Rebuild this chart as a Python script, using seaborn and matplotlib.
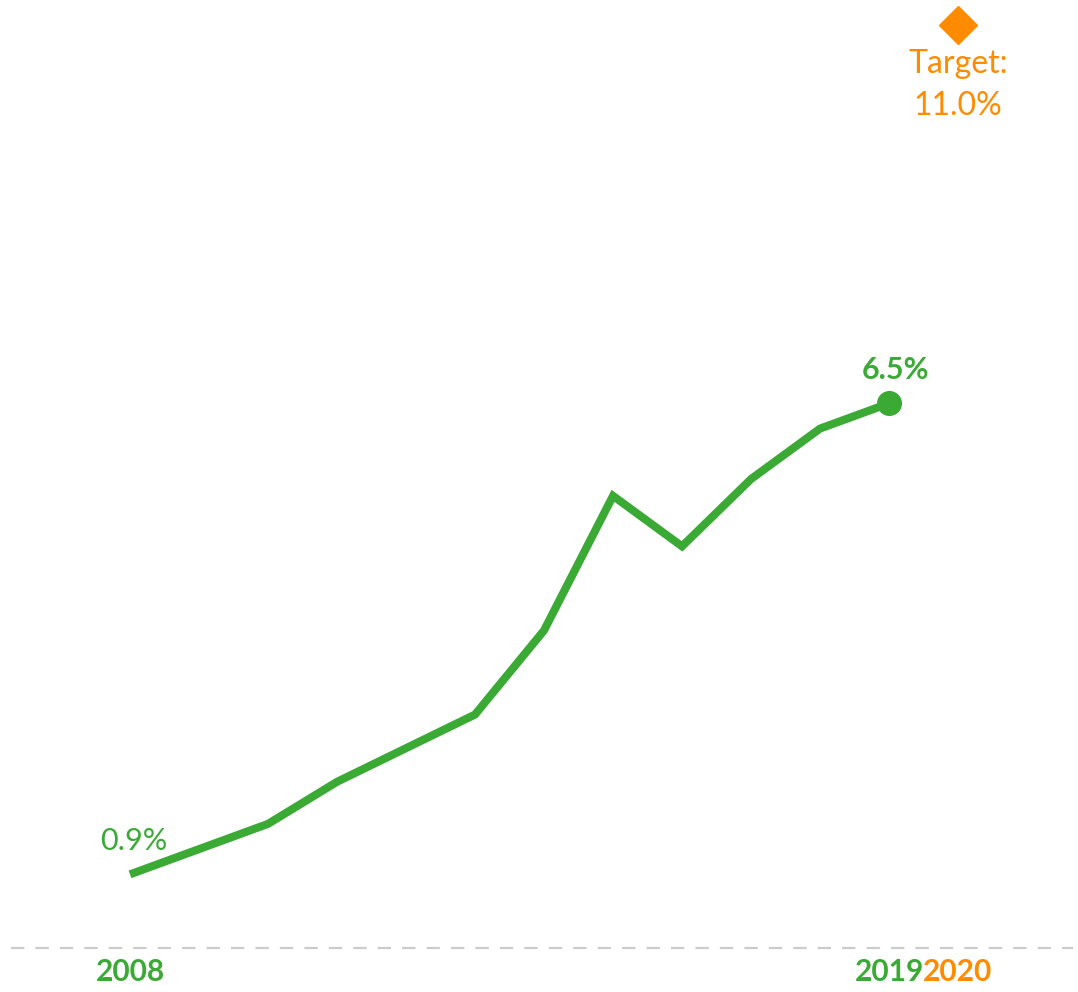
import matplotlib.pyplot as plt
import pandas as pd
import seaborn as sns

GREEN = "#3aaa35"
ORANGE = "#ff8b00"

years = [2008, 2009, 2010, 2011, 2012, 2013, 2014, 2015, 2016, 2017, 2018, 2019]
share = [0.9, 1.2, 1.5, 2.0, 2.4, 2.8, 3.8, 5.4, 4.8, 5.6, 6.2, 6.5]
target_year = 2020
target_value = 11.0

sns.set_theme(style="white")
plt.rcParams["font.family"] = ["Lato", "DejaVu Sans"]

df = pd.DataFrame({"year": years, "share": share})

fig = plt.figure(figsize=(10.78, 9.92), dpi=100)
ax = fig.add_axes([0, 0, 1, 1])

sns.lineplot(data=df, x="year", y="share", ax=ax, color=GREEN,
             linewidth=5.8, solid_capstyle="butt", solid_joinstyle="miter")
ax.plot(years[-1], share[-1], "o", color=GREEN, markersize=17)
ax.plot(target_year, target_value, "D", color=ORANGE, markersize=19)

# baseline
ax.axhline(0.02, xmin=0.01, xmax=0.995, color="#cccccc", linewidth=1.6,
           linestyle=(0, (6, 5)))

ax.set_xlim(2006.116, 2021.739)
ax.set_ylim(-0.499, 11.296)
ax.axis("off")

ax.text(years[0] + 0.05, share[0] + 0.4, f"{share[0]:.1f}%", color=GREEN,
        fontsize=22, ha="center", va="center")
ax.text(years[-1] + 0.1, share[-1] + 0.4, f"{share[-1]:.1f}%", color=GREEN,
        fontsize=22, fontweight="bold", ha="center", va="center")
ax.text(target_year, target_value - 0.47, "Target:", color=ORANGE,
        fontsize=23, ha="center", va="center")
ax.text(target_year, target_value - 0.97, f"{target_value:.1f}%", color=ORANGE,
        fontsize=23, ha="center", va="center")

ax.text(years[0], -0.26, str(years[0]), color=GREEN, fontsize=21.5,
        fontweight="bold", ha="center", va="center")
ax.text(years[-1] + 0.01, -0.26, str(years[-1]), color=GREEN, fontsize=21.5,
        fontweight="bold", ha="center", va="center")
ax.text(target_year - 0.01, -0.26, str(target_year), color=ORANGE, fontsize=21.5,
        fontweight="bold", ha="center", va="center")

fig.savefig("out.png", dpi=100)
